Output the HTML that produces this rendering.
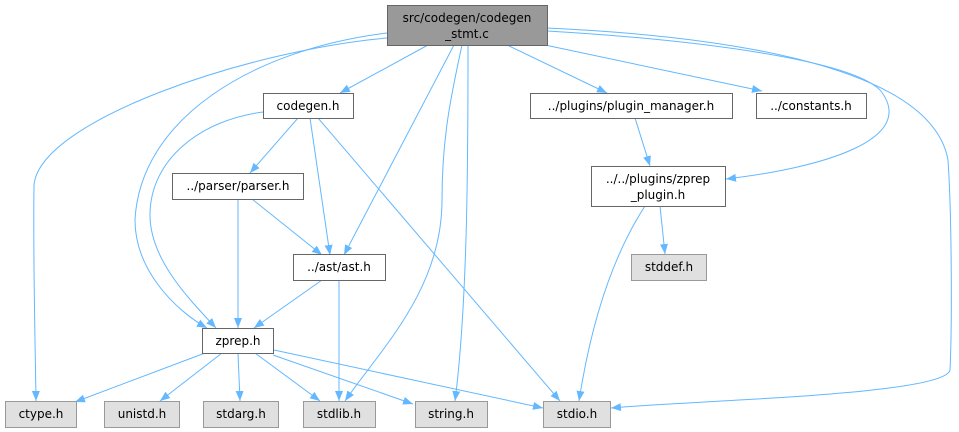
<!DOCTYPE html>
<html><head><meta charset="utf-8"><style>
html,body{margin:0;padding:0;background:#fff;}
svg{display:block;}
text{font-family:"DejaVu Sans","Liberation Sans",sans-serif;font-size:12px;fill:#000;text-anchor:middle;}
.e{fill:none;stroke:#63b8ff;stroke-width:1;}
.n{fill:#fff;stroke:#666;stroke-width:1;}
.g{fill:#e0e0e0;stroke:#999;stroke-width:1;}
</style></head><body>
<svg width="959" height="432" viewBox="0 0 959 432" xmlns="http://www.w3.org/2000/svg">
<defs><marker id="a" viewBox="0 0 10 8" refX="10" refY="4" markerWidth="10" markerHeight="8" markerUnits="userSpaceOnUse" orient="auto"><path d="M0,0 L10,4 L0,8 z" fill="#63b8ff"/></marker></defs>
<g marker-end="url(#a)">
<path class="e" d="M428,45 L340,93"/>
<path class="e" d="M507,45 L607,93"/>
<path class="e" d="M545,45 L762,91"/>
<path class="e" d="M547,31 C700,40 850,60 880,90 C920,140 820,168 726,179"/>
<path class="e" d="M547,28 C700,35 930,60 948,160 C952,220 952,330 950,370 C945,395 700,400 611,408"/>
<path class="e" d="M387,38 C250,50 40,120 34,185 C33,260 35,330 36,401"/>
<path class="e" d="M387,33 C250,50 140,120 135,220 C135,270 175,310 207,328"/>
<path class="e" d="M454,45 L344,255"/>
<path class="e" d="M462,45 C450,100 442,140 442,200 C442,290 380,350 345,401"/>
<path class="e" d="M468,45 C468,150 468,300 455,401"/>
<path class="e" d="M298,118 L250,173"/>
<path class="e" d="M310,118 L330,255"/>
<path class="e" d="M318,118 L560,401"/>
<path class="e" d="M263,112 C200,120 150,160 150,215 C150,260 190,300 216,328"/>
<path class="e" d="M238,199 L238,328"/>
<path class="e" d="M252,199 L322,255"/>
<path class="e" d="M322,280 L254,328"/>
<path class="e" d="M339,280 L339,401"/>
<path class="e" d="M635,118 L650,166"/>
<path class="e" d="M660,206 L665,254"/>
<path class="e" d="M645,206 C610,260 590,330 579,401"/>
<path class="e" d="M205,353 L75,402"/>
<path class="e" d="M222,353 L160,401"/>
<path class="e" d="M238,353 L240,401"/>
<path class="e" d="M255,353 L320,401"/>
<path class="e" d="M273,355 L413,404"/>
<path class="e" d="M274,350 L543,408"/>
</g>
<rect x="387.5" y="5.5" width="160" height="40" fill="#999" stroke="#666"/>
<text x="467" y="22">src/codegen/codegen</text><text x="467" y="38">_stmt.c</text>
<rect class="n" x="263.5" y="93.5" width="90" height="25"/><text x="308" y="110">codegen.h</text>
<rect class="n" x="530.5" y="93.5" width="202" height="25"/><text x="631" y="110">../plugins/plugin_manager.h</text>
<rect class="n" x="756.5" y="93.5" width="110" height="25"/><text x="811" y="110">../constants.h</text>
<rect class="n" x="172.5" y="173.5" width="131" height="26"/><text x="238" y="190">../parser/parser.h</text>
<rect class="n" x="591.5" y="166.5" width="134" height="40"/><text x="658" y="183">../../plugins/zprep</text><text x="658" y="199">_plugin.h</text>
<rect class="n" x="293.5" y="254.5" width="92" height="26"/><text x="339" y="271">../ast/ast.h</text>
<rect class="g" x="631.5" y="254.5" width="75" height="26"/><text x="669" y="271">stddef.h</text>
<rect class="n" x="202.5" y="328.5" width="71" height="25"/><text x="238" y="345">zprep.h</text>
<rect class="g" x="5.5" y="401.5" width="71" height="26"/><text x="41" y="418">ctype.h</text>
<rect class="g" x="104.5" y="401.5" width="75" height="26"/><text x="142" y="418">unistd.h</text>
<rect class="g" x="203.5" y="401.5" width="75" height="26"/><text x="241" y="418">stdarg.h</text>
<rect class="g" x="303.5" y="401.5" width="72" height="26"/><text x="339" y="418">stdlib.h</text>
<rect class="g" x="415.5" y="401.5" width="72" height="26"/><text x="451" y="418">string.h</text>
<rect class="g" x="543.5" y="401.5" width="67" height="26"/><text x="577" y="418">stdio.h</text>
</svg>
</body></html>
